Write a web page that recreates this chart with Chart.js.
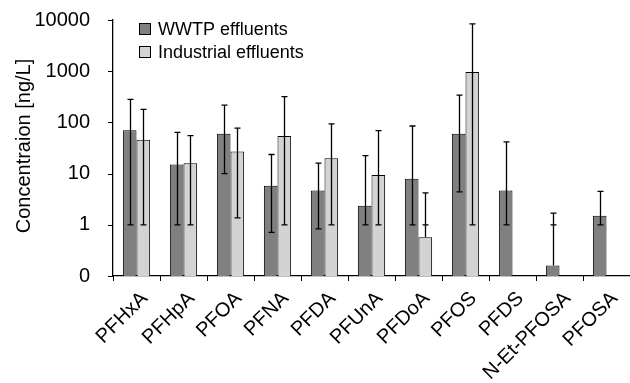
<!DOCTYPE html>
<html>
<head>
<meta charset="utf-8">
<script src="https://cdn.jsdelivr.net/npm/chart.js@4/dist/chart.umd.min.js"></script>
<style>
  html, body { margin: 0; padding: 0; background: #fff; }
  #wrap { width: 630px; height: 383px; }
</style>
</head>
<body>
<div id="wrap"><canvas id="myChart" width="630" height="383"></canvas></div>
<script>
  // values (0.1 is the "0" baseline)
  const categories = ['PFHxA', 'PFHpA', 'PFOA', 'PFNA', 'PFDA', 'PFUnA', 'PFDoA', 'PFOS', 'PFDS', 'N-Et-PFOSA', 'PFOSA'];
  const wwtp = [70, 15, 60, 5.8, 4.7, 2.35, 7.9, 60, 4.7, 0.16, 1.5];
  const wwtpLow = [1, 1, 10, 0.71, 0.83, 1, 1, 4.4, 1, 1, 1];
  const wwtpHigh = [282, 64, 218, 23.6, 16, 22.5, 85, 342, 41.5, 1.69, 4.5];
  const industrial = [46, 16, 27, 54, 20, 9.4, 0.57, 960, null, null, null];
  const industrialLow = [1, 1, 1.37, 1, 1, 1, 1, 1, null, null, null];
  const industrialHigh = [180, 55, 77, 318, 94, 69, 4.2, 8400, null, null, null];
  const yTicks = [0.1, 1, 10, 100, 1000, 10000];

  const FONT = "'Liberation Sans', Arial, sans-serif";
  const DARK = '#808080';
  const LIGHT = '#d3d3d3';

  // whiskers: line from the high value down to the low value (or the bar top if lower)
  const errorBars = {
    id: 'errorBars',
    afterDatasetsDraw(chart) {
      const ctx = chart.ctx;
      const y = chart.scales.y;
      const ranges = [[wwtpLow, wwtpHigh], [industrialLow, industrialHigh]];
      ctx.save();
      ctx.strokeStyle = '#000';
      ctx.lineWidth = 1.3;
      chart.data.datasets.forEach((ds, i) => {
        const meta = chart.getDatasetMeta(i);
        meta.data.forEach((bar, j) => {
          const lo = ranges[i][0][j], hi = ranges[i][1][j];
          if (ds.data[j] == null || lo == null) return;
          const x = Math.round(bar.x) + 0.5;
          const yHi = y.getPixelForValue(hi);
          const yLo = y.getPixelForValue(lo);
          const yBottom = Math.max(yLo, bar.y);
          ctx.beginPath();
          ctx.moveTo(x, yHi);
          ctx.lineTo(x, yBottom);
          ctx.moveTo(x - 3, yHi);
          ctx.lineTo(x + 3, yHi);
          ctx.moveTo(x - 3, yLo);
          ctx.lineTo(x + 3, yLo);
          ctx.stroke();
        });
      });
      ctx.restore();
    }
  };

  // legend inside the plot, tick marks and the y title
  const decorations = {
    id: 'decorations',
    afterDraw(chart) {
      const ctx = chart.ctx;
      const a = chart.chartArea;
      const ys = chart.scales.y;
      ctx.save();
      ctx.strokeStyle = '#000';
      ctx.lineWidth = 1;
      ctx.beginPath();
      const step = (a.right - a.left) / categories.length;
      for (let i = 0; i <= categories.length; i++) {
        const x = Math.round(a.left + i * step) + 0.5;
        ctx.moveTo(x, a.bottom);
        ctx.lineTo(x, a.bottom + 5);
      }
      yTicks.forEach(v => {
        const y = Math.round(ys.getPixelForValue(v)) + 0.5;
        ctx.moveTo(a.left - 5, y);
        ctx.lineTo(a.left, y);
      });
      ctx.stroke();

      const items = [['WWTP effluents', DARK], ['Industrial effluents', LIGHT]];
      ctx.font = '18px ' + FONT;
      ctx.textBaseline = 'middle';
      items.forEach((it, k) => {
        const cy = a.top + 9 + k * 23;
        ctx.fillStyle = it[1];
        ctx.fillRect(a.left + 26.5, cy - 5.5, 11, 11);
        ctx.strokeRect(a.left + 26.5, cy - 5.5, 11, 11);
        ctx.fillStyle = '#000';
        ctx.fillText(it[0], a.left + 45, cy + 1);
      });

      ctx.font = '20px ' + FONT;
      ctx.translate(24, 146);
      ctx.rotate(-Math.PI / 2);
      ctx.textAlign = 'center';
      ctx.fillText('Concentraion [ng/L]', 0, 0);
      ctx.restore();
    }
  };

  const ctx = document.getElementById('myChart').getContext('2d');
  new Chart(ctx, {
    type: 'bar',
    data: {
      labels: categories,
      datasets: [
        { label: 'WWTP effluents', data: wwtp, backgroundColor: DARK, borderColor: '#000', borderWidth: 1 },
        { label: 'Industrial effluents', data: industrial, backgroundColor: LIGHT, borderColor: '#000', borderWidth: 1 }
      ]
    },
    options: {
      responsive: false,
      animation: false,
      devicePixelRatio: 1,
      categoryPercentage: 0.58,
      barPercentage: 1,
      layout: { padding: { top: 20, right: 0, left: 0, bottom: 0 } },
      plugins: { legend: { display: false }, tooltip: { enabled: false } },
      scales: {
        x: {
          grid: { display: false },
          border: { color: '#000', width: 1.3 },
          ticks: { color: '#000', font: { family: FONT, size: 20 }, maxRotation: 45, minRotation: 45, padding: 3, labelOffset: 8, autoSkip: false },
          afterFit(s) { s.height = 107; s.paddingLeft = 0; s.paddingRight = 0; }
        },
        y: {
          type: 'logarithmic',
          min: 0.1,
          max: 10000,
          grid: { display: false },
          border: { color: '#000', width: 1.3 },
          afterBuildTicks(s) { s.ticks = yTicks.map(v => ({ value: v })); },
          ticks: {
            color: '#000',
            font: { family: FONT, size: 20 },
            padding: 15,
            callback: v => (v === 0.1 ? '0' : String(v))
          },
          afterFit(s) { s.width = 113; s.paddingTop = 0; s.paddingBottom = 0; }
        }
      }
    },
    plugins: [errorBars, decorations]
  });
</script>
</body>
</html>
